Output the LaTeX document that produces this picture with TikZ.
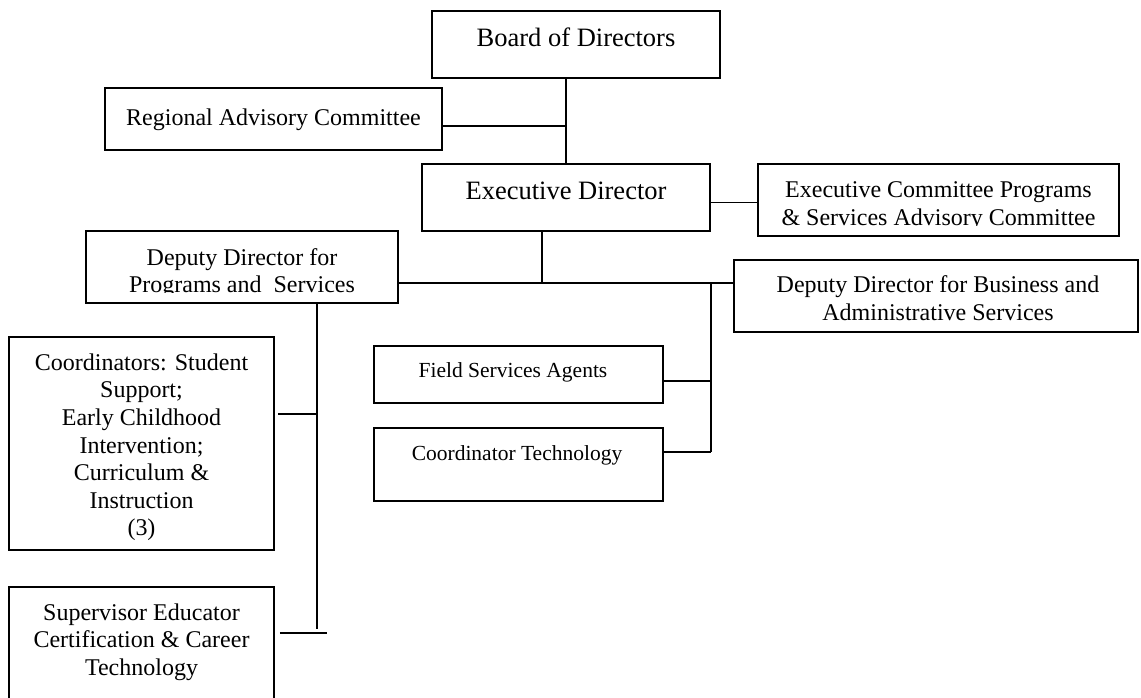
\documentclass[tikz,border=0pt]{standalone}
\usepackage{fontspec}
\setmainfont{Liberation Serif}
\begin{document}
\begin{tikzpicture}[x=1pt,y=-1pt,
  box/.style={draw, line width=1.7pt, rectangle, inner sep=0pt},
  lbl/.style={inner sep=0pt, anchor=north, align=center, font=\fontsize{24}{27.6}\selectfont},
  biglbl/.style={lbl, font=\fontsize{26.5}{30}\selectfont},
  smalllbl/.style={lbl, font=\fontsize{21.5}{25}\selectfont},
  link/.style={line width=1.7pt}]
\clip (0,0) rectangle (1141,698);
\fill[white] (0,0) rectangle (1141,698);
% boxes
\node[box, minimum width=288pt, minimum height=67pt] (board) at (576,44.5) {};
\node[box, minimum width=337pt, minimum height=62pt] (regional) at (273.5,119) {};
\node[box, minimum width=288pt, minimum height=67pt] (exec) at (566,197.5) {};
\node[box, minimum width=361pt, minimum height=72pt] (execcomm) at (938.5,200) {};
\node[box, minimum width=312pt, minimum height=72pt] (dpp) at (242,267) {};
\node[box, minimum width=404pt, minimum height=72pt] (dpb) at (936,296) {};
\node[box, minimum width=289pt, minimum height=57pt] (field) at (518.5,374.5) {};
\node[box, minimum width=289pt, minimum height=73pt] (tech) at (518.5,464.5) {};
\node[box, minimum width=265pt, minimum height=213pt] (coord) at (141.5,443.5) {};
\node[box, minimum width=265pt, minimum height=133pt] (super) at (141.5,653.5) {};
% texts
\node[biglbl] (boardtxt) at (576,25.7) {\strut Board of Directors};
\node[lbl] (regionaltxt) at (273.5,105.7) {\strut Regional Advisory Committee};
\node[biglbl] (exectxt) at (566,178.5) {\strut Executive Director};
\begin{scope}
\clip (758,164) rectangle (1119,225.5);
\node[lbl] (execcommtxt) at (938.5,178) {\strut Executive Committee Programs\\\& Services Advisory Committee};
\end{scope}
\begin{scope}
\clip (86,231) rectangle (398,292.5);
\node[lbl] (dpptxt) at (242,245.7) {\strut Deputy Director for\\Programs and~ Services};
\end{scope}
\node[lbl] (dpbtxt) at (938,273.4) {\strut Deputy Director for Business and\\Administrative Services};
\node[smalllbl] (fieldtxt) at (513,359.8) {\strut Field Services Agents};
\node[smalllbl] (techtxt) at (517,443.2) {\strut Coordinator Technology};
\node[lbl] (coordtxt) at (141.5,350.7) {\strut Coordinators: Student\\Support;\\Early Childhood\\Intervention;\\Curriculum \&\\Instruction\\(3)};
\node[lbl] (supertxt) at (141.5,600.7) {\strut Supervisor Educator\\Certification \& Career\\Technology};
% connectors
\coordinate (bus) at (542,283.3);
\coordinate (rv) at (710.7,283.3);
\coordinate (rend) at (710.7,451.7);
\coordinate (lv) at (317,629.3);
\draw[link] (exec.north |- board.south) -- (exec.north);
\draw[link] ([yshift=-7pt]regional.east) -- ([yshift=-7pt]regional.east -| exec.north);
\draw[link] ([yshift=-5pt]exec.east) -- ([yshift=-5pt]exec.east -| execcomm.west);
\draw[link] (exec.south -| bus) -- (bus);
\draw[link] (dpp.east |- bus) -- (dpb.west |- bus);
\draw[link] (rv) -- (rend);
\draw[link] ([yshift=-6.2pt]field.east) -- ([yshift=-6.2pt]field.east -| rv);
\draw[link] ([yshift=12.8pt]tech.east) -- ([yshift=12.8pt]tech.east -| rv);
\draw[link] (dpp.south -| lv) -- (lv);
\draw[link] ([xshift=3.5pt,yshift=29.5pt]coord.east) -- ([yshift=29.5pt]coord.east -| lv);
\draw[link] ([xshift=5pt,yshift=20.8pt]super.east) -- ([xshift=9.7pt,yshift=20.8pt]super.east -| lv);
\end{tikzpicture}
\end{document}
